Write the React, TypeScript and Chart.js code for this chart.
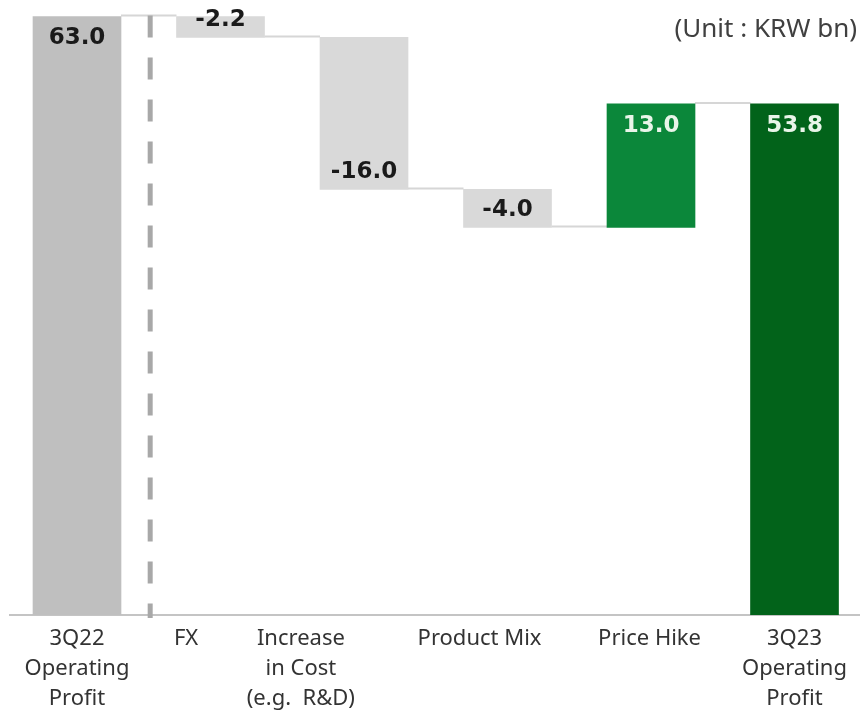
import { useEffect, useRef } from "react";
import { Chart, registerables } from "chart.js";

Chart.register(...registerables);

// ---- data ----
const categories: (string | string[])[] = [
  ["3Q22", "Operating", "Profit"],
  "FX",
  ["Increase", "in Cost", "(e.g.  R&D)"],
  "Product Mix",
  "Price Hike",
  ["3Q23", "Operating", "Profit"],
];
const changes = [63.0, -2.2, -16.0, -4.0, 13.0, 53.8];
const isTotal = [true, false, false, false, false, true];
const valueLabels = ["63.0", "-2.2", "-16.0", "-4.0", "13.0", "53.8"];
const unitText = "(Unit : KRW bn)";

// ---- styles ----
const barColors = ["#bfbfbf", "#d9d9d9", "#d9d9d9", "#d9d9d9", "#0b873a", "#02631a"];
const labelColors = ["#1a1a1a", "#1a1a1a", "#1a1a1a", "#1a1a1a", "#e9f5e9", "#e9f5e9"];
const labelShift = [0, -0.24, -0.44, -0.195, -0.01, 0];

function buildRanges() {
  const ranges: [number, number][] = [];
  let running = 0;
  changes.forEach((v, i) => {
    if (isTotal[i]) {
      ranges.push([0, v]);
      running = v;
    } else {
      const next = running + v;
      ranges.push([Math.min(running, next), Math.max(running, next)]);
      running = next;
    }
  });
  return ranges;
}

export default function App() {
  const ref = useRef<HTMLCanvasElement | null>(null);

  useEffect(() => {
    if (!ref.current) return;
    const ranges = buildRanges();
    const ends: number[] = [];
    {
      let running = 0;
      changes.forEach((v, i) => {
        running = isTotal[i] ? v : running + v;
        ends.push(running);
      });
    }

    const overlay = {
      id: "overlay",
      beforeDatasetsDraw(chart: any) {
        const ctx = chart.ctx;
        const meta = chart.getDatasetMeta(0);
        const ys = chart.scales.y;
        // connectors
        ctx.save();
        ctx.strokeStyle = "#d6d6d6";
        ctx.lineWidth = 2;
        for (let i = 0; i < meta.data.length - 1; i++) {
          const a = meta.data[i];
          const b = meta.data[i + 1];
          const y = ys.getPixelForValue(ends[i]) - 1;
          ctx.beginPath();
          ctx.moveTo(a.x + a.width / 2, y);
          ctx.lineTo(b.x - b.width / 2, y);
          ctx.stroke();
        }
        ctx.restore();
      },
      afterDatasetsDraw(chart: any) {
        const ctx = chart.ctx;
        const meta = chart.getDatasetMeta(0);
        const xs = chart.scales.x;
        const ys = chart.scales.y;
        // dashed separator
        ctx.save();
        ctx.strokeStyle = "#a8a8a8";
        ctx.lineWidth = 5;
        ctx.setLineDash([22, 20]);
        const sx = xs.getPixelForValue(0.51);
        ctx.beginPath();
        ctx.moveTo(sx, ys.getPixelForValue(changes[0]) - 1);
        ctx.lineTo(sx, chart.chartArea.bottom + 3);
        ctx.stroke();
        ctx.restore();

        // value labels
        ctx.save();
        ctx.font = "bold 23px 'DejaVu Sans'";
        ctx.textAlign = "center";
        ctx.textBaseline = "middle";
        meta.data.forEach((bar: any, i: number) => {
          const top = Math.min(bar.y, bar.base);
          const bottom = Math.max(bar.y, bar.base);
          const y = changes[i] < 0 ? bottom - 17 : top + 22;
          ctx.fillStyle = labelColors[i];
          ctx.fillText(valueLabels[i], bar.x, y);
        });
        ctx.restore();

        // unit text
        ctx.save();
        ctx.font = "26px 'Noto Sans'";
        ctx.fillStyle = "#404040";
        ctx.textAlign = "right";
        ctx.textBaseline = "middle";
        ctx.fillText(unitText, 857, 30);
        ctx.restore();
      },
    };

    const chart = new Chart(ref.current, {
      type: "bar",
      data: {
        datasets: [
          {
            data: ranges.map((r, i) => ({ x: i, y: r })) as any,
            backgroundColor: barColors,
            borderWidth: 0,
            barThickness: 88,
          },
        ],
      },
      options: {
        animation: false,
        responsive: false,
        maintainAspectRatio: false,
        layout: { padding: { left: 10, right: 0, top: 0, bottom: 0 } },
        plugins: {
          legend: { display: false },
          tooltip: { enabled: false },
        },
        scales: {
          x: {
            type: "linear",
            offset: false,
            min: -0.4669,
            max: 5.4564,
            grid: { display: false, drawTicks: false, offset: false },
            border: { display: true, color: "#c4c4c4", width: 2 },
            afterBuildTicks: (scale: any) => {
              scale.ticks = categories.map((_, i) => ({ value: i + labelShift[i] }));
            },
            afterFit: (scale: any) => {
              scale.height = 101;
            },
            ticks: {
              autoSkip: false,
              maxRotation: 0,
              minRotation: 0,
              padding: 9,
              color: "#333333",
              font: { family: "'Noto Sans'", size: 22, lineHeight: 1.35 },
              callback: (_v: any, index: number) => categories[index] as any,
            },
          },
          y: {
            display: false,
            min: 0,
            max: 64.74,
          },
        },
      },
      plugins: [overlay],
    });
    return () => chart.destroy();
  }, []);

  return (
    <div style={{ position: "absolute", left: 0, top: 0, width: 860, height: 716, background: "#fff" }}>
      <canvas ref={ref} width={860} height={716} style={{ width: 860, height: 716, display: "block" }} />
    </div>
  );
}
